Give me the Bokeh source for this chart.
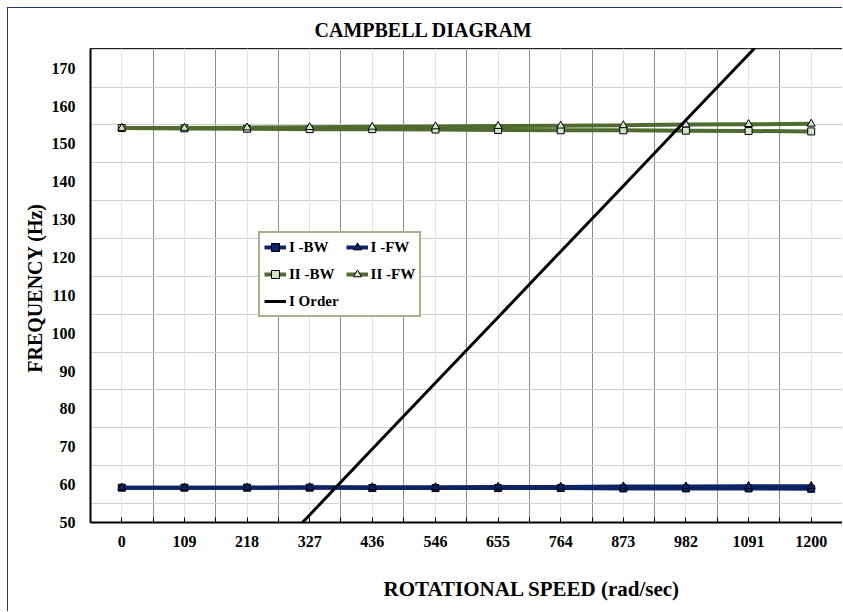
from bokeh.plotting import figure
from bokeh.models import Range1d, FixedTicker, Grid, Legend, LegendItem, Title
from bokeh.embed import file_html
from bokeh.resources import INLINE

# ---------------- data ----------------
speeds = [0, 109, 218, 327, 436, 546, 655, 764, 873, 982, 1091, 1200]
speed_labels = ["0", "109", "218", "327", "436", "546", "655", "764", "873", "982", "1091", "1200"]
i_bw = [59.2, 59.2, 59.2, 59.2, 59.1, 59.1, 59.1, 59.1, 59.0, 59.0, 59.0, 58.9]
i_fw = [59.2, 59.2, 59.2, 59.3, 59.3, 59.3, 59.4, 59.4, 59.5, 59.5, 59.6, 59.6]
ii_bw = [154.2, 154.1, 154.0, 153.9, 153.9, 153.8, 153.7, 153.6, 153.6, 153.5, 153.4, 153.3]
ii_fw = [154.2, 154.2, 154.3, 154.4, 154.5, 154.6, 154.7, 154.8, 154.9, 155.1, 155.2, 155.3]
i_order = [0.0, 17.3, 34.7, 52.0, 69.4, 86.9, 104.2, 121.6, 138.9, 156.3, 173.6, 191.0]
y_ticks = [50, 60, 70, 80, 90, 100, 110, 120, 130, 140, 150, 160, 170]
y_grid = [55, 65, 75, 85, 95, 105, 115, 125, 135, 145, 155, 165, 175]

# ---------------- geometry ----------------
W, H = 835, 604            # host box at page (7, 7), border-box incl. 1px left/top border
BL, BT, BR, BB = 82, 39, 1, 90
X0, X1 = -54.5, 1254.5
Y0, Y1 = 50, 175.2
FL = 8 + BL                # page x of frame left
FT = 8 + BT                # page y of frame top
FH = (H - 1) - BT - BB

FONT = "Liberation Serif"
NAVY = "#0C2366"
GREEN = "#4F6B2F"

p = figure(width=W, height=H, x_range=Range1d(X0, X1), y_range=Range1d(Y0, Y1),
           output_backend="svg", toolbar_location=None,
           min_border_left=BL, min_border_top=BT, min_border_right=BR, min_border_bottom=BB)
p.styles = {"margin-left": "7px", "margin-top": "7px",
            "border-left": "1px solid #26386B", "border-top": "1px solid #26386B"}
p.background_fill_color = "white"
p.border_fill_color = "white"
p.outline_line_color = "#222222"
p.outline_line_width = 1

# title
p.title.text = "CAMPBELL DIAGRAM"
p.title.align = "left"
p.title.offset = 314 - FL
p.title.text_font = FONT
p.title.text_font_style = "bold"
p.title.text_font_size = "20px"
p.title.text_color = "black"
p.title.standoff = 16

# grids
boundaries = [(a + b) / 2 for a, b in zip(speeds[:-1], speeds[1:])]
p.xgrid.ticker = FixedTicker(ticks=boundaries)
p.xgrid.grid_line_color = "#8c8c8c"
p.xgrid.grid_line_width = 1
center_grid = Grid(dimension=0, ticker=FixedTicker(ticks=speeds),
                   grid_line_color="#e4e4e4", grid_line_width=1)
p.add_layout(center_grid)
p.ygrid.ticker = FixedTicker(ticks=y_grid)
p.ygrid.grid_line_color = "#cfcfcf"
p.ygrid.grid_line_width = 1

# axes
p.xaxis.ticker = FixedTicker(ticks=speeds, minor_ticks=boundaries)
p.xaxis.major_label_overrides = {s: l for s, l in zip(speeds, speed_labels)}
p.xaxis.major_tick_in = 5
p.xaxis.major_tick_out = 0
p.xaxis.minor_tick_in = 5
p.xaxis.minor_tick_out = 0
p.xaxis.major_label_standoff = 13
p.yaxis.ticker = FixedTicker(ticks=y_ticks)
p.yaxis.major_tick_in = 0
p.yaxis.major_tick_out = 0
p.yaxis.minor_tick_in = 0
p.yaxis.minor_tick_out = 0
p.yaxis.major_label_standoff = 15
for ax in (p.xaxis[0], p.yaxis[0]):
    ax.axis_line_color = "black"
    ax.axis_line_width = 2
    ax.major_tick_line_color = "black"
    ax.minor_tick_line_color = "black"
    ax.major_label_text_font = FONT
    ax.major_label_text_font_style = "bold"
    ax.major_label_text_font_size = "16px"
    ax.major_label_text_color = "black"

p.yaxis.axis_label = "FREQUENCY  (Hz)"
p.yaxis.axis_label_text_font = FONT
p.yaxis.axis_label_text_font_style = "bold"
p.yaxis.axis_label_text_font_size = "20px"
p.yaxis.axis_label_text_color = "black"
p.yaxis.axis_label_standoff = 3

# spacer between the x axis and its title, then the title itself
spacer = Title(text=" ", text_font_size="16px", standoff=0)
p.add_layout(spacer, "below")
xtitle = Title(text="ROTATIONAL SPEED  (rad/sec)", align="left", offset=383 - FL)
xtitle.text_font = FONT
xtitle.text_font_style = "bold"
xtitle.text_font_size = "21px"
xtitle.text_color = "black"
xtitle.standoff = 13
p.add_layout(xtitle, "below")

# series
r1 = p.line(speeds, i_bw, line_color=NAVY, line_width=4)
m1 = p.scatter(speeds, i_bw, marker="square", size=7, fill_color=NAVY, line_color="black", line_width=1)
r2 = p.line(speeds, i_fw, line_color=NAVY, line_width=4)
m2 = p.scatter(speeds, i_fw, marker="triangle", size=8, fill_color=NAVY, line_color="black", line_width=1)
r3 = p.line(speeds, ii_bw, line_color=GREEN, line_width=4)
m3 = p.scatter(speeds, ii_bw, marker="square", size=7, fill_color="#d8dfcc", line_color="black", line_width=1)
r4 = p.line(speeds, ii_fw, line_color=GREEN, line_width=4)
m4 = p.scatter(speeds, ii_fw, marker="triangle", size=8, fill_color="#d8dfcc", line_color="black", line_width=1)
r5 = p.line(speeds, i_order, line_color="black", line_width=3)

# legend (column-major fill: col 1 = I-BW, II-BW, I Order; col 2 = I-FW, II-FW)
legend = Legend(items=[
    LegendItem(label="I -BW", renderers=[r1, m1]),
    LegendItem(label="II -BW", renderers=[r3, m3]),
    LegendItem(label="I Order", renderers=[r5]),
    LegendItem(label="I -FW", renderers=[r2, m2]),
    LegendItem(label="II -FW", renderers=[r4, m4]),
], ncols=2, location=(258 - FL, (FT + FH) - 316))
legend.label_text_font = FONT
legend.label_text_font_style = "bold"
legend.label_text_font_size = "15px"
legend.label_text_color = "black"
legend.border_line_color = "#4F6228"
legend.border_line_width = 2
legend.background_fill_color = "white"
legend.background_fill_alpha = 1
legend.glyph_width = 22
legend.glyph_height = 20
legend.label_standoff = 3
legend.spacing = 7
legend.padding = 4
legend.margin = 0
p.add_layout(legend, "center")

open("out.html", "w").write(file_html(p, INLINE))
